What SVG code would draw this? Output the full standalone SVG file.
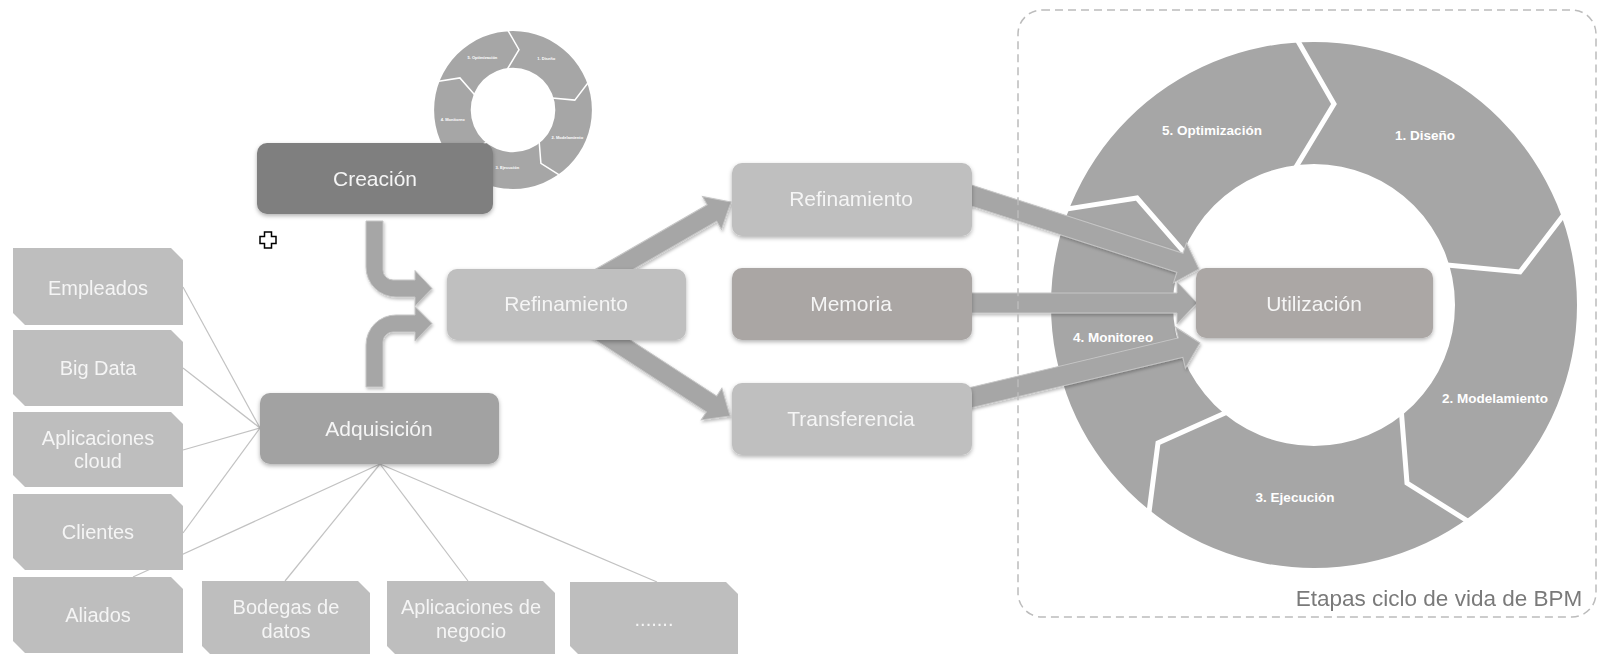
<svg xmlns="http://www.w3.org/2000/svg" xmlns:xlink="http://www.w3.org/1999/xlink" width="1599" height="654" viewBox="0 0 1599 654">
<style>
.box{stroke:none}
.lbl{font-family:"Liberation Sans",Arial,sans-serif;font-size:21px;fill:#f5f5f5;text-anchor:middle}
.slbl{font-family:"Liberation Sans",Arial,sans-serif;font-size:20px;fill:#f5f5f5;text-anchor:middle}
.rlbl{font-family:"Liberation Sans",Arial,sans-serif;font-size:13.5px;font-weight:bold;fill:#ffffff;text-anchor:middle}
.snip{fill:#bebebe}
.ln{stroke:#c2c2c2;stroke-width:1.2;fill:none}
.barrow{fill:#a6a6a6;stroke:#c6c6c6;stroke-width:1}
.cut{fill:none;stroke:#ffffff;stroke-width:5;stroke-linejoin:miter}
</style>
<defs>
<filter id="sh" x="-10%" y="-20%" width="120%" height="150%">
<feDropShadow dx="0" dy="2" stdDeviation="2" flood-color="#000" flood-opacity="0.3"/>
</filter>
<filter id="ash" x="-20%" y="-40%" width="140%" height="180%">
<feDropShadow dx="1" dy="2" stdDeviation="1.5" flood-color="#000" flood-opacity="0.25"/>
</filter>
</defs>
<rect width="1599" height="654" fill="#ffffff"/>

<g id="ciclo-bpm">
<path fill="#a6a6a6" fill-rule="evenodd" d="M1577,305 A263,263 0 1 1 1051,305 A263,263 0 1 1 1577,305 Z M1455,305 A141,141 0 1 0 1173,305 A141,141 0 1 0 1455,305 Z"/>
<polyline class="cut" points="1295.6,37 1334,104 1294.8,169"/>
<polyline class="cut" points="1563.6,215 1520,272 1444.3,264.8"/>
<polyline class="cut" points="1470.5,522.9 1407,483 1401.1,408.4"/>
<polyline class="cut" points="1148.3,517.7 1158,443 1226.8,412.3"/>
<polyline class="cut" points="1061.4,209.9 1137,198 1187.6,256.2"/>
<text class="rlbl" x="1212" y="134.5">5. Optimización</text>
<text class="rlbl" x="1425" y="139.5">1. Diseño</text>
<text class="rlbl" x="1495" y="402.5">2. Modelamiento</text>
<text class="rlbl" x="1295" y="501.5">3. Ejecución</text>
<text class="rlbl" x="1113" y="341.5">4. Monitoreo</text>
</g>

<g id="ciclo-mini">
<use xlink:href="#ciclo-bpm" href="#ciclo-bpm" transform="translate(513,110) scale(0.3) translate(-1314,-305)"/>
</g>

<g id="connectors">
<line class="ln" x1="260" y1="428" x2="183" y2="287"/>
<line class="ln" x1="260" y1="428" x2="183" y2="368"/>
<line class="ln" x1="260" y1="428" x2="183" y2="450"/>
<line class="ln" x1="260" y1="428" x2="183" y2="533"/>
<line class="ln" x1="380" y1="464" x2="133" y2="577"/>
<line class="ln" x1="380" y1="464" x2="285" y2="581"/>
<line class="ln" x1="380" y1="464" x2="468" y2="581"/>
<line class="ln" x1="380" y1="464" x2="657" y2="582"/>
<g filter="url(#ash)">
<path class="barrow" d="M366,221 H383 V270 A10,10 0 0 0 393,280 H415 V270.5 L432,288.5 L415,306 V297 H396 A30,30 0 0 1 366,267 Z"/>
<path class="barrow" d="M366,387 V345 A30,30 0 0 1 396,315 H415 V306.5 L432,323.5 L415,341 V332 H393 A10,10 0 0 0 383,342 V387 Z"/>
<polygon class="barrow" transform="translate(731,202) rotate(-30)" points="0,0 -22,-19 -22,-9.5 -160,-9.5 -160,9.5 -22,9.5 -22,19"/>
<polygon class="barrow" transform="translate(730,416) rotate(33)" points="0,0 -22,-19 -22,-9.5 -160,-9.5 -160,9.5 -22,9.5 -22,19"/>
<polygon class="barrow" transform="translate(1199,269) rotate(17.9)" points="0,0 -20,-21 -20,-10 -251,-10 -251,10 -20,10 -20,21"/>
<polygon class="barrow" transform="translate(1197,303)" points="0,0 -20,-21 -20,-10 -237,-10 -237,10 -20,10 -20,21"/>
<polygon class="barrow" transform="translate(1200,343) rotate(-13.4)" points="0,0 -20,-21 -20,-10 -247,-10 -247,10 -20,10 -20,21"/>
</g>
</g>

<g id="creacion"><rect x="257" y="143" width="236" height="71" rx="10" fill="#7f7f7f" filter="url(#sh)"/><text class="lbl" x="375" y="186">Creación</text></g>
<g id="adquisicion"><rect x="260" y="393" width="239" height="71" rx="10" fill="#a2a2a2" filter="url(#sh)"/><text class="lbl" x="379" y="436">Adquisición</text></g>
<g id="refinamiento-1"><rect x="447" y="269" width="239" height="71" rx="10" fill="#bfbfbf" filter="url(#sh)"/><text class="lbl" x="566" y="311">Refinamiento</text></g>
<g id="refinamiento-2"><rect x="732" y="163" width="240" height="73" rx="10" fill="#bfbfbf" filter="url(#sh)"/><text class="lbl" x="851" y="206">Refinamiento</text></g>
<g id="memoria"><rect x="732" y="268" width="240" height="72" rx="10" fill="#aaa6a4" filter="url(#sh)"/><text class="lbl" x="851" y="310.5">Memoria</text></g>
<g id="transferencia"><rect x="732" y="383" width="240" height="72" rx="10" fill="#bfbfbf" filter="url(#sh)"/><text class="lbl" x="851" y="425.5">Transferencia</text></g>
<g id="utilizacion"><rect x="1196" y="268" width="237" height="70" rx="10" fill="#aba7a5" filter="url(#sh)"/><text class="lbl" x="1314" y="310.5">Utilización</text></g>

<g id="empleados"><path class="snip" d="M13,248 H171 L183,260 V325 H25 L13,313 Z"/><text class="slbl" x="98" y="295">Empleados</text></g>
<g id="big-data"><path class="snip" d="M13,330 H171 L183,342 V406 H25 L13,394 Z"/><text class="slbl" x="98" y="375">Big Data</text></g>
<g id="aplicaciones-cloud"><path class="snip" d="M13,412 H171 L183,424 V487 H25 L13,475 Z"/><text class="slbl" x="98" y="445">Aplicaciones</text><text class="slbl" x="98" y="468">cloud</text></g>
<g id="clientes"><path class="snip" d="M13,494 H171 L183,506 V570 H25 L13,558 Z"/><text class="slbl" x="98" y="539">Clientes</text></g>
<g id="aliados"><path class="snip" d="M13,577 H171 L183,589 V653 H25 L13,641 Z"/><text class="slbl" x="98" y="622">Aliados</text></g>
<g id="bodegas"><path class="snip" d="M202,581 H358 L370,593 V658 H214 L202,646 Z"/><text class="slbl" x="286" y="614">Bodegas de</text><text class="slbl" x="286" y="638">datos</text></g>
<g id="aplicaciones-negocio"><path class="snip" d="M387,581 H543 L555,593 V658 H399 L387,646 Z"/><text class="slbl" x="471" y="614">Aplicaciones de</text><text class="slbl" x="471" y="638">negocio</text></g>
<g id="otros"><path class="snip" d="M570,582 H726 L738,594 V658 H582 L570,646 Z"/><text class="slbl" x="654" y="626">.......</text></g>

<g id="cursor"><path d="M264.5,232 h7 v4.5 h4.5 v7 h-4.5 v4.5 h-7 v-4.5 h-4.5 v-7 h4.5 z" fill="#ffffff" stroke="#000000" stroke-width="1.5"/></g>

<g id="etapas-frame">
<rect x="1018" y="10" width="578" height="607" rx="24" fill="none" stroke="#bcbcbc" stroke-width="1.5" stroke-dasharray="8 5"/>
<text x="1439" y="606" style="font-family:'Liberation Sans',Arial,sans-serif;font-size:22.5px;fill:#7a7a7a;text-anchor:middle">Etapas ciclo de vida de BPM</text>
</g>
</svg>
